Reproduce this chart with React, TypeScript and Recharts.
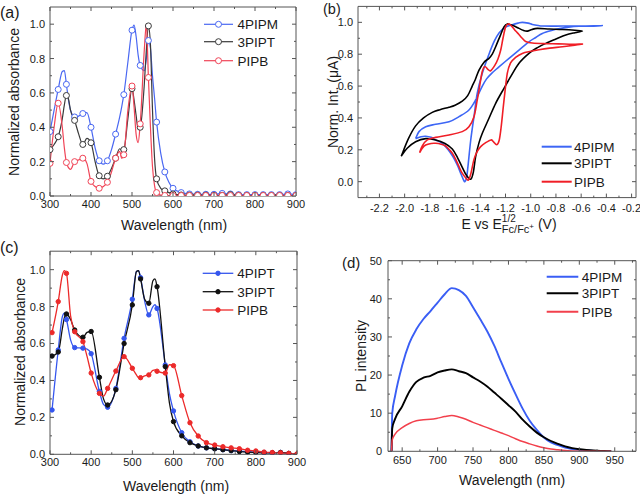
import React from 'react';
import { LineChart, Line, XAxis, YAxis } from 'recharts';

const FONT = '"Liberation Sans", Arial, Helvetica, sans-serif';
const FRAME = '#555';
const TXT = '#1a1a1a';

// ---------------- (a) absorbance, solution ----------------
const aWave = [300, 310, 320, 330, 335, 340, 345, 350, 360, 370, 380, 390, 400, 410, 420, 430, 440, 450, 460, 470, 475, 480, 490, 500, 505, 510, 515, 520, 530, 535, 540, 545, 550, 555, 560, 570, 580, 590, 600, 620, 640, 660, 680, 700, 720, 740, 760, 780, 800, 820, 840, 860, 880, 900];
const a4PIPM = [0.375, 0.5, 0.62, 0.725, 0.73, 0.65, 0.56, 0.5, 0.46, 0.465, 0.48, 0.485, 0.4, 0.28, 0.205, 0.185, 0.205, 0.27, 0.36, 0.46, 0.52, 0.59, 0.78, 0.965, 0.995, 0.93, 0.82, 0.76, 0.73, 0.8, 0.905, 0.86, 0.7, 0.57, 0.43, 0.25, 0.14, 0.08, 0.045, 0.02, 0.012, 0.01, 0.01, 0.01, 0.015, 0.012, 0.008, 0.008, 0.008, 0.008, 0.008, 0.008, 0.012, 0.008];
const a3PIPT = [0.27, 0.3, 0.345, 0.45, 0.53, 0.585, 0.565, 0.5, 0.44, 0.36, 0.3, 0.335, 0.31, 0.2, 0.118, 0.1, 0.115, 0.16, 0.22, 0.275, 0.265, 0.27, 0.45, 0.625, 0.56, 0.47, 0.39, 0.4, 0.65, 0.85, 0.99, 0.88, 0.5, 0.22, 0.1, 0.045, 0.03, 0.02, 0.012, 0.006, 0.005, 0.005, 0.005, 0.004, 0.004, 0.008, 0.004, 0.003, 0.003, 0.003, 0.003, 0.003, 0.003, 0.003];
const aPIPB = [0.19, 0.4, 0.54, 0.4, 0.28, 0.195, 0.165, 0.155, 0.2, 0.21, 0.22, 0.19, 0.085, 0.055, 0.045, 0.055, 0.08, 0.14, 0.22, 0.26, 0.22, 0.24, 0.5, 0.64, 0.52, 0.36, 0.31, 0.42, 0.85, 1.0, 0.69, 0.4, 0.17, 0.06, 0.02, 0.005, 0.003, 0.003, 0.003, 0.003, 0.003, 0.003, 0.003, 0.003, 0.003, 0.003, 0.003, 0.003, 0.003, 0.003, 0.003, 0.003, 0.003, 0.003];
const aNames = ['4PIPM', '3PIPT', 'PIPB'];

// ---------------- (b) cyclic voltammetry ----------------
const cv4PIPM_E = [-1.913, -1.87, -1.833, -1.79, -1.754, -1.71, -1.675, -1.64, -1.609, -1.58, -1.556, -1.535, -1.522, -1.508, -1.498, -1.476, -1.45, -1.424, -1.384, -1.331, -1.29, -1.25, -1.2, -1.146, -1.1, -1.067, -1.02, -0.987, -0.94, -0.908, -0.8, -0.7, -0.6, -0.5, -0.432, -0.5, -0.617, -0.7, -0.78, -0.829, -0.908, -0.96, -1.014, -1.093, -1.172, -1.252, -1.31, -1.35, -1.384, -1.437, -1.49, -1.569, -1.648, -1.754, -1.833, -1.886, -1.913];
const cv4PIPM_I = [0.27, 0.282, 0.285, 0.278, 0.262, 0.245, 0.22, 0.185, 0.147, 0.1, 0.053, 0.015, 0.0, 0.03, 0.094, 0.26, 0.408, 0.555, 0.68, 0.8, 0.88, 0.935, 0.97, 0.985, 0.995, 1.0, 0.995, 0.987, 0.98, 0.977, 0.976, 0.977, 0.977, 0.978, 0.979, 0.976, 0.975, 0.97, 0.96, 0.95, 0.93, 0.905, 0.878, 0.826, 0.774, 0.72, 0.68, 0.645, 0.6, 0.513, 0.45, 0.408, 0.376, 0.36, 0.345, 0.314, 0.27];
const cv3PIPT_E = [-2.027, -1.98, -1.913, -1.833, -1.754, -1.68, -1.622, -1.58, -1.543, -1.51, -1.476, -1.455, -1.437, -1.41, -1.384, -1.331, -1.278, -1.212, -1.159, -1.093, -1.014, -0.95, -0.881, -0.8, -0.722, -0.65, -0.59, -0.65, -0.749, -0.85, -0.948, -0.99, -1.027, -1.06, -1.093, -1.14, -1.186, -1.212, -1.24, -1.278, -1.305, -1.331, -1.37, -1.41, -1.44, -1.464, -1.5, -1.543, -1.6, -1.648, -1.72, -1.781, -1.85, -1.913, -1.97, -2.027];
const cv3PIPT_I = [0.16, 0.21, 0.251, 0.27, 0.262, 0.24, 0.205, 0.15, 0.09, 0.04, 0.015, 0.06, 0.157, 0.245, 0.304, 0.398, 0.492, 0.586, 0.659, 0.743, 0.805, 0.84, 0.868, 0.895, 0.92, 0.935, 0.945, 0.95, 0.955, 0.958, 0.962, 0.955, 0.945, 0.95, 0.962, 0.98, 0.99, 0.972, 0.92, 0.847, 0.8, 0.774, 0.75, 0.7, 0.64, 0.6, 0.54, 0.505, 0.48, 0.467, 0.452, 0.435, 0.4, 0.35, 0.27, 0.16];
const cvPIPB_E = [-1.881, -1.86, -1.833, -1.79, -1.754, -1.71, -1.675, -1.645, -1.622, -1.595, -1.569, -1.545, -1.516, -1.495, -1.475, -1.45, -1.424, -1.397, -1.357, -1.315, -1.295, -1.27, -1.25, -1.235, -1.212, -1.186, -1.16, -1.12, -1.067, -1.0, -0.935, -0.85, -0.749, -0.65, -0.59, -0.67, -0.78, -0.881, -0.987, -1.04, -1.067, -1.095, -1.119, -1.15, -1.178, -1.2, -1.22, -1.238, -1.26, -1.285, -1.318, -1.34, -1.365, -1.385, -1.405, -1.424, -1.45, -1.49, -1.543, -1.648, -1.754, -1.82, -1.86, -1.881];
const cvPIPB_I = [0.182, 0.21, 0.23, 0.24, 0.241, 0.235, 0.224, 0.2, 0.178, 0.14, 0.094, 0.055, 0.025, 0.01, 0.05, 0.14, 0.19, 0.22, 0.245, 0.262, 0.25, 0.232, 0.26, 0.34, 0.51, 0.68, 0.745, 0.78, 0.805, 0.818, 0.828, 0.838, 0.847, 0.857, 0.864, 0.862, 0.865, 0.866, 0.87, 0.88, 0.9, 0.925, 0.945, 0.975, 0.99, 0.97, 0.9, 0.826, 0.77, 0.73, 0.696, 0.705, 0.722, 0.69, 0.6, 0.513, 0.408, 0.345, 0.314, 0.293, 0.278, 0.262, 0.225, 0.182];

// ---------------- (c) absorbance, film ----------------
const cWave = [305, 320, 330, 335, 340, 350, 360, 380, 390, 400, 420, 430, 440, 460, 480, 500, 510, 515, 520, 530, 540, 550, 555, 560, 580, 590, 600, 620, 640, 660, 680, 700, 720, 740, 760, 780, 800, 820, 840, 860, 880, 900];
const c4PIPT = [0.24, 0.565, 0.745, 0.765, 0.73, 0.62, 0.578, 0.575, 0.57, 0.545, 0.34, 0.27, 0.255, 0.357, 0.628, 0.84, 0.99, 0.995, 0.957, 0.83, 0.755, 0.8, 0.81, 0.79, 0.484, 0.33, 0.235, 0.117, 0.068, 0.045, 0.035, 0.03, 0.025, 0.02, 0.017, 0.015, 0.012, 0.01, 0.008, 0.01, 0.004, 0.0];
const c3PIPT = [0.532, 0.554, 0.68, 0.74, 0.76, 0.73, 0.673, 0.634, 0.66, 0.665, 0.417, 0.3, 0.267, 0.35, 0.6, 0.809, 0.99, 0.995, 0.95, 0.84, 0.818, 0.94, 0.95, 0.908, 0.475, 0.28, 0.177, 0.1, 0.063, 0.045, 0.035, 0.03, 0.025, 0.02, 0.015, 0.012, 0.01, 0.008, 0.008, 0.01, 0.005, 0.0];
const cPIPB = [0.659, 0.827, 0.97, 0.995, 0.98, 0.75, 0.664, 0.61, 0.53, 0.44, 0.33, 0.315, 0.357, 0.451, 0.529, 0.466, 0.43, 0.415, 0.415, 0.425, 0.43, 0.455, 0.457, 0.45, 0.44, 0.485, 0.48, 0.318, 0.171, 0.099, 0.063, 0.05, 0.041, 0.035, 0.03, 0.022, 0.018, 0.012, 0.01, 0.008, 0.005, 0.002];
const cNames = ['4PIPT', '3PIPT', 'PIPB'];

// ---------------- (d) photoluminescence ----------------
const dWave = [635, 636, 640, 650, 660, 670, 680, 690, 700, 710, 720, 730, 740, 750, 760, 770, 780, 790, 800, 810, 820, 830, 840, 850, 860, 870, 880, 890, 900, 910, 920, 930, 940, 945];
const d4PIPM = [0, 10, 14.5, 22.5, 28.3, 32, 34.7, 36.8, 39, 41.2, 42.8, 42.3, 40.8, 37.8, 34.7, 31.5, 27.7, 23.3, 19, 15, 11.2, 8, 5.6, 3.6, 2.3, 1.6, 1.0, 0.6, 0.4, 0.25, 0.12, 0.05, 0.02, 0];
const d3PIPT = [0, 6, 8.5, 11.8, 15.6, 18.2, 19.3, 19.8, 20.7, 21.2, 21.5, 21.0, 20.5, 19.4, 18.3, 17.0, 15.4, 13.8, 12.1, 10.4, 8.3, 6.5, 4.9, 3.7, 2.7, 1.95, 1.3, 0.85, 0.55, 0.35, 0.2, 0.1, 0.04, 0];
const dPIPB = [0, 3, 4.5, 6.2, 7.3, 8.0, 8.3, 8.4, 8.7, 9.1, 9.4, 9.0, 8.4, 7.6, 6.9, 6.2, 5.5, 4.8, 4.1, 3.3, 2.55, 1.95, 1.4, 0.95, 0.6, 0.38, 0.2, 0.1, 0.04, 0.01, 0, 0, 0, 0];
const dNames = ['4PIPM', '3PIPT', 'PIPB'];

// ---------------- tick labels ----------------
const absXMajor = [300, 400, 500, 600, 700, 800, 900];
const absYMajor = [0, 0.2, 0.4, 0.6, 0.8, 1.0];
const cvXMajor = [-2.2, -2.0, -1.8, -1.6, -1.4, -1.2, -1.0, -0.8, -0.6, -0.4, -0.2];
const cvYMajor = [0, 0.2, 0.4, 0.6, 0.8, 1.0];
const plXMajor = [650, 700, 750, 800, 850, 900, 950];
const plYMajor = [0, 10, 20, 30, 40, 50];

const between = (m: number[]) => m.slice(0, -1).map((v, i) => (v + m[i + 1]) / 2);
const withMinors = (m: number[], extra: number[] = []) => [...m, ...between(m), ...extra].sort((p, q) => p - q);

const toPts = (xs: number[], ys: number[]) => xs.map((x, i) => ({ x, y: ys[i] }));

// Catmull-Rom curve factory (parametric, handles closed CV loops)
const catmullRom = (context: any) => {
  let pts: number[][] = [];
  return {
    areaStart() {},
    areaEnd() {},
    lineStart() { pts = []; },
    point(x: number, y: number) { pts.push([+x, +y]); },
    lineEnd() {
      if (!pts.length) return;
      context.moveTo(pts[0][0], pts[0][1]);
      for (let i = 0; i < pts.length - 1; i++) {
        const p0 = pts[i - 1] || pts[i];
        const p1 = pts[i];
        const p2 = pts[i + 1];
        const p3 = pts[i + 2] || p2;
        context.bezierCurveTo(
          p1[0] + (p2[0] - p0[0]) / 6, p1[1] + (p2[1] - p0[1]) / 6,
          p2[0] - (p3[0] - p1[0]) / 6, p2[1] - (p3[1] - p1[1]) / 6,
          p2[0], p2[1]
        );
      }
    },
  };
};

type Side = 'bottom' | 'left' | 'top' | 'right';
const makeTick = (side: Side, majors: number[], fmt: (v: number) => string, gap: number, labels: boolean) => (props: any) => {
  const { x, y, payload, index } = props;
  const v = Number(payload.value);
  const major = majors.some((m) => Math.abs(m - v) < 1e-6);
  const len = major ? 4 : 2;
  let line: any = null;
  let label: any = null;
  if (side === 'bottom') {
    const ay = y - gap;
    line = <line x1={x} x2={x} y1={ay} y2={ay - len} stroke={FRAME} strokeWidth={1} />;
    if (labels && major) label = <text x={x} y={y} dy="0.71em" textAnchor="middle" fontSize={11} fill={TXT} fontFamily={FONT}>{fmt(v)}</text>;
  } else if (side === 'left') {
    const ax = x + gap;
    line = <line x1={ax} x2={ax + len} y1={y} y2={y} stroke={FRAME} strokeWidth={1} />;
    if (labels && major) label = <text x={x} y={y} dy="0.36em" textAnchor="end" fontSize={11} fill={TXT} fontFamily={FONT}>{fmt(v)}</text>;
  } else if (side === 'top') {
    line = <line x1={x} x2={x} y1={y} y2={y + len} stroke={FRAME} strokeWidth={1} />;
  } else {
    line = <line x1={x} x2={x - len} y1={y} y2={y} stroke={FRAME} strokeWidth={1} />;
  }
  return <g key={`t-${side}-${index}`}>{line}{label}</g>;
};

const markerDot = (color: string, filled: boolean, r: number, isMarker: (x: number) => boolean) => (p: any) => {
  const { cx, cy, payload, index } = p;
  if (cx == null || cy == null || !isMarker(payload.x)) return <g key={`d-${index}`} />;
  return <circle key={`d-${index}`} cx={cx} cy={cy} r={r} fill={filled ? color : '#fff'} stroke={color} strokeWidth={1} />;
};

interface Series { data: { x: number; y: number }[]; color: string; width: number; type: any; dot: any }
interface Cfg {
  w: number; h: number; margin: { top: number; right: number; bottom: number; left: number };
  xDomain: number[]; yDomain: number[]; xTicks: number[]; yTicks: number[];
  xMajor: number[]; yMajor: number[]; xFmt: (v: number) => string; yFmt: (v: number) => string;
  yAxisW: number; xGap: number; yGap: number; series: Series[];
}

// top (1px tall) and right (1px wide) axes close the frame; margins below are reduced by 1px to compensate
const renderChart = (c: Cfg) => (
  <LineChart width={c.w} height={c.h} margin={c.margin}>
    <XAxis xAxisId="b" dataKey="x" type="number" domain={c.xDomain} ticks={c.xTicks} interval={0} allowDataOverflow
      tickSize={0} tickMargin={c.xGap} tickLine={false} axisLine={{ stroke: FRAME }} height={30}
      tick={makeTick('bottom', c.xMajor, c.xFmt, c.xGap, true)} />
    <XAxis xAxisId="t" dataKey="x" type="number" orientation="top" domain={c.xDomain} ticks={c.xTicks} interval={0} allowDataOverflow
      tickSize={0} tickMargin={0} tickLine={false} axisLine={{ stroke: FRAME }} height={1}
      tick={makeTick('top', c.xMajor, c.xFmt, 0, false)} />
    <YAxis yAxisId="l" type="number" domain={c.yDomain} ticks={c.yTicks} interval={0} allowDataOverflow
      tickSize={0} tickMargin={c.yGap} tickLine={false} axisLine={{ stroke: FRAME }} width={c.yAxisW}
      tick={makeTick('left', c.yMajor, c.yFmt, c.yGap, true)} />
    <YAxis yAxisId="r" type="number" orientation="right" domain={c.yDomain} ticks={c.yTicks} interval={0} allowDataOverflow
      tickSize={0} tickMargin={0} tickLine={false} axisLine={{ stroke: FRAME }} width={1}
      tick={makeTick('right', c.yMajor, c.yFmt, 0, false)} />
    <Line xAxisId="t" yAxisId="r" data={c.series[0].data} dataKey="y" stroke="none" strokeWidth={0}
      dot={false} activeDot={false} isAnimationActive={false} legendType="none" />
    {c.series.map((s, i) => (
      <Line key={i} xAxisId="b" yAxisId="l" data={s.data} dataKey="y" type={s.type} stroke={s.color}
        strokeWidth={s.width} dot={s.dot} activeDot={false} isAnimationActive={false} />
    ))}
  </LineChart>
);

const COL_A = ['#4a68f2', '#3a3a3a', '#f04457'];
const COL_B = ['#3d66f5', '#000000', '#f01e26'];
const COL_C = ['#3556ee', '#111111', '#ec2a2a'];
const COL_D = ['#3a5ef5', '#000000', '#f2404c'];

const every20 = (x: number) => x % 20 === 0;
const cMark = (x: number) => x % 20 === 0 || x === 305;

const fix1 = (v: number) => v.toFixed(1);
const int0 = (v: number) => String(Math.round(v));

const cfgA: Cfg = {
  w: 320, h: 250, margin: { top: 6, right: 23, bottom: 24, left: 0 },
  xDomain: [300, 900], yDomain: [0, 1.1], xTicks: withMinors(absXMajor), yTicks: withMinors(absYMajor),
  xMajor: absXMajor, yMajor: absYMajor, xFmt: int0, yFmt: fix1, yAxisW: 50, xGap: 4, yGap: 5,
  series: [a4PIPM, a3PIPT, aPIPB].map((ys, i) => ({
    data: toPts(aWave, ys), color: COL_A[i], width: 1.2, type: 'monotone', dot: markerDot(COL_A[i], false, 3, every20),
  })),
};

const cfgB: Cfg = {
  w: 320, h: 250, margin: { top: 5.4, right: 3, bottom: 22.4, left: 0 },
  xDomain: [-2.37, -0.165], yDomain: [-0.1, 1.1], xTicks: withMinors(cvXMajor, [-2.3]), yTicks: withMinors(cvYMajor),
  xMajor: cvXMajor, yMajor: cvYMajor, xFmt: fix1, yFmt: fix1, yAxisW: 38, xGap: 7, yGap: 5,
  series: [
    toPts(cv4PIPM_E, cv4PIPM_I), toPts(cv3PIPT_E, cv3PIPT_I), toPts(cvPIPB_E, cvPIPB_I),
  ].map((d, i) => ({ data: d, color: COL_B[i], width: 1.6, type: catmullRom, dot: false })),
};

const cfgC: Cfg = {
  w: 320, h: 247, margin: { top: 0.2, right: 22, bottom: 12.7, left: 0 },
  xDomain: [300, 900], yDomain: [0, 1.1], xTicks: withMinors(absXMajor), yTicks: withMinors(absYMajor),
  xMajor: absXMajor, yMajor: absYMajor, xFmt: int0, yFmt: fix1, yAxisW: 50, xGap: 4, yGap: 5,
  series: [c4PIPT, c3PIPT, cPIPB].map((ys, i) => ({
    data: toPts(cWave, ys), color: COL_C[i], width: 1.3, type: 'monotone', dot: markerDot(COL_C[i], true, 2.2, cMark),
  })),
};

const cfgD: Cfg = {
  w: 320, h: 247, margin: { top: 9.7, right: 3, bottom: 15.7, left: 0 },
  xDomain: [630, 980], yDomain: [0, 50], xTicks: withMinors(plXMajor, [975]), yTicks: withMinors(plYMajor),
  xMajor: plXMajor, yMajor: plYMajor, xFmt: int0, yFmt: int0, yAxisW: 68, xGap: 5, yGap: 6,
  series: [d4PIPM, d3PIPT, dPIPB].map((ys, i) => ({
    data: toPts(dWave, ys), color: COL_D[i], width: i === 2 ? 1.5 : 1.9, type: 'monotone', dot: false,
  })),
};

const Legend = ({ x1, x2, tx, ys, names, colors, marker, sw }: any) => (
  <g>
    {names.map((n: string, i: number) => (
      <g key={n}>
        <line x1={x1} x2={x2} y1={ys[i]} y2={ys[i]} stroke={colors[i]} strokeWidth={sw} />
        {marker === 'open' && <circle cx={(x1 + x2) / 2} cy={ys[i]} r={3} fill="#fff" stroke={colors[i]} strokeWidth={1} />}
        {marker === 'filled' && <circle cx={(x1 + x2) / 2} cy={ys[i]} r={2.2} fill={colors[i]} stroke={colors[i]} strokeWidth={1} />}
        <text x={tx} y={ys[i]} dy="0.36em" fontSize={13.5} fill={TXT} fontFamily={FONT}>{n}</text>
      </g>
    ))}
  </g>
);

const Title = ({ x, y, rot, children, size = 14 }: any) => (
  <text transform={`translate(${x},${y})${rot ? ' rotate(-90)' : ''}`} textAnchor="middle" dy="0.36em"
    fontSize={size} fill={TXT} fontFamily={FONT}>{children}</text>
);

export default function App() {
  return (
    <div style={{ position: 'absolute', left: 0, top: 0, width: 640, height: 497, background: '#fff', fontFamily: FONT }}>
      <div style={{ position: 'absolute', left: 0, top: 0 }}>{renderChart(cfgA)}</div>
      <div style={{ position: 'absolute', left: 320, top: 0 }}>{renderChart(cfgB)}</div>
      <div style={{ position: 'absolute', left: 0, top: 250 }}>{renderChart(cfgC)}</div>
      <div style={{ position: 'absolute', left: 320, top: 250 }}>{renderChart(cfgD)}</div>
      <svg width={640} height={497} style={{ position: 'absolute', left: 0, top: 0, pointerEvents: 'none' }}>
        <text x={0} y={12} dy="0.36em" fontSize={16} fill={TXT} fontFamily={FONT}>(a)</text>
        <text x={323} y={9} dy="0.36em" fontSize={14.5} fill={TXT} fontFamily={FONT}>(b)</text>
        <text x={0} y={247} dy="0.36em" fontSize={16} fill={TXT} fontFamily={FONT}>(c)</text>
        <text x={342} y={263} dy="0.36em" fontSize={15} fill={TXT} fontFamily={FONT}>(d)</text>

        <Title x={174} y={225}>Wavelength (nm)</Title>
        <Title x={14} y={102} rot>Normalized absorbance</Title>
        <text x={509} y={229} textAnchor="middle" fontSize={14} fill={TXT} fontFamily={FONT}>
          E vs E<tspan dy={-7} fontSize={10}>1/2</tspan><tspan dx={-13.9} dy={11} fontSize={11}>Fc/Fc</tspan><tspan dy={-4} fontSize={8}>+</tspan><tspan dy={0} fontSize={14}> (V)</tspan>
        </text>
        <Title x={333} y={102} rot>Norm. Int. (μA)</Title>
        <Title x={176} y={486}>Wavelength (nm)</Title>
        <Title x={20} y={352} rot>Normalized absorbance</Title>
        <Title x={512} y={480}>Wavelength (nm)</Title>
        <Title x={361} y={356} rot>PL intensity</Title>

        <Legend x1={204} x2={233} tx={237.5} ys={[24.3, 41.7, 60.7]} names={aNames} colors={COL_A} marker="open" sw={1.2} />
        <Legend x1={541.7} x2={571.7} tx={574} ys={[146.7, 163.3, 181.7]} names={aNames} colors={COL_B} marker="none" sw={2} />
        <Legend x1={202.7} x2={233.3} tx={237.3} ys={[273.3, 291.7, 310]} names={cNames} colors={COL_C} marker="filled" sw={1.3} />
        <Legend x1={546.7} x2={578.3} tx={581.7} ys={[276.7, 293.3, 311.7]} names={dNames} colors={COL_D} marker="none" sw={2} />
      </svg>
    </div>
  );
}
